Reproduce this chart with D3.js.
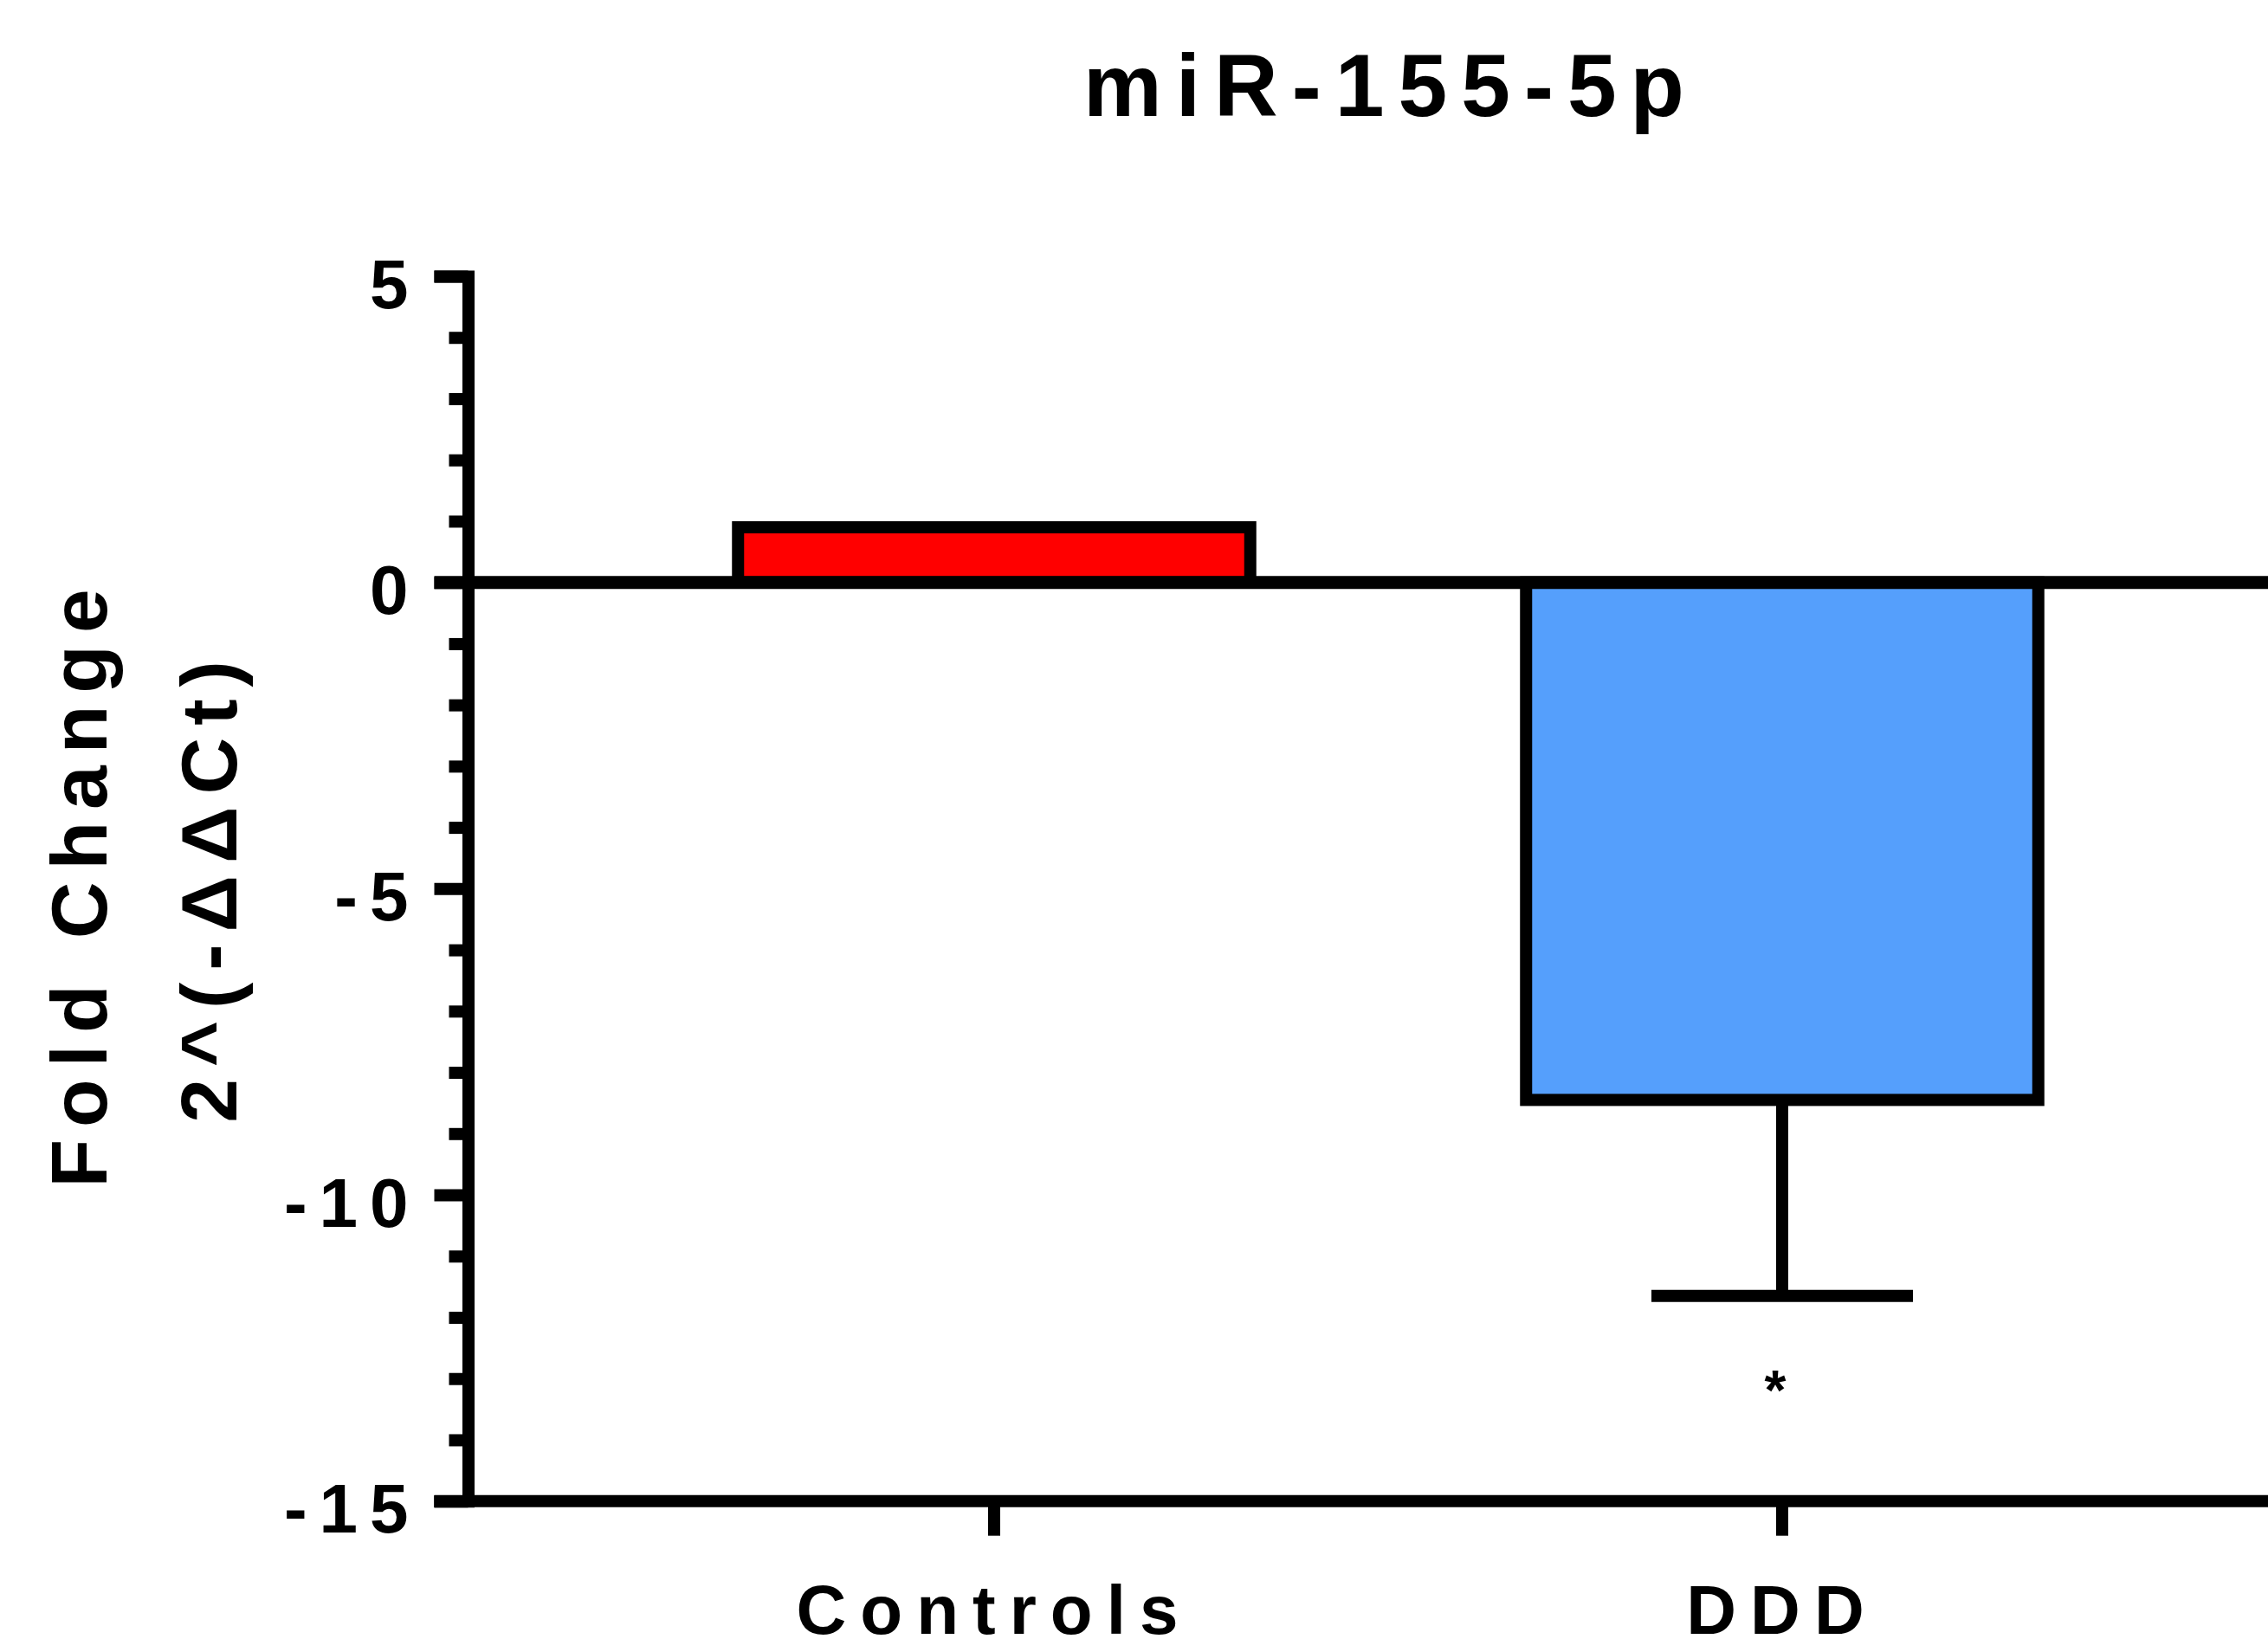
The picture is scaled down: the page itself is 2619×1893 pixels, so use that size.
<!DOCTYPE html>
<html>
<head>
<meta charset="utf-8">
<script src="https://cdn.jsdelivr.net/npm/d3@7"></script>
<style>
  html, body { margin: 0; padding: 0; background: #fff; }
  svg text { font-family: "Liberation Sans", Arial, Helvetica, sans-serif; font-weight: bold; fill: #000; }
</style>
</head>
<body>
<div id="chart"></div>
<script>
// chart values
var categories = ["Controls", "DDD"];
var means = [0.9, -8.45];
var errors = [0, 3.2];
var marks = ["", "*"];
var yTicks = [-15, -10, -5, 0, 5];
var title = "miR-155-5p";
var yTitle = ["Fold Change", "2^(-\u0394\u0394Ct)"];

var colors = ["#FF0000", "#559FFC"];

var width = 2619,
  height = 1893;

var axisX = 540.5,
  lw = 14;

var y = d3.scaleLinear()
  .domain([-15, 5])
  .range([1733.7, 319]);

var x = d3.scaleBand()
  .domain(categories)
  .range([693, 2513])
  .paddingInner(0.35)
  .paddingOuter(0.175);

var color = d3.scaleOrdinal(categories, colors);

var data = categories.map(function(c, i) {
  return {cat: c, mean: means[i], err: errors[i], mark: marks[i]};
});

var svg = d3.select("#chart").append("svg")
  .attr("width", width)
  .attr("height", height);

// bars
svg.append("g").attr("class", "bars")
  .selectAll("rect")
  .data(data)
  .enter().append("rect")
    .attr("x", function(d) { return x(d.cat); })
    .attr("width", x.bandwidth())
    .attr("y", function(d) { return y(Math.max(0, d.mean)); })
    .attr("height", function(d) { return Math.abs(y(d.mean) - y(0)); })
    .attr("fill", function(d) { return color(d.cat); })
    .attr("stroke", "#000")
    .attr("stroke-width", lw);

// error bars (away from zero)
var eb = svg.append("g").attr("class", "errorbars")
  .selectAll("g")
  .data(data.filter(function(d) { return d.err > 0; }))
  .enter().append("g");

function errEnd(d) { return d.mean < 0 ? d.mean - d.err : d.mean + d.err; }

eb.append("line")
  .attr("x1", function(d) { return x(d.cat) + x.bandwidth() / 2; })
  .attr("x2", function(d) { return x(d.cat) + x.bandwidth() / 2; })
  .attr("y1", function(d) { return y(d.mean); })
  .attr("y2", function(d) { return y(errEnd(d)); })
  .attr("stroke", "#000")
  .attr("stroke-width", lw);

eb.append("line")
  .attr("x1", function(d) { return x(d.cat) + x.bandwidth() / 2 - 151; })
  .attr("x2", function(d) { return x(d.cat) + x.bandwidth() / 2 + 151; })
  .attr("y1", function(d) { return y(errEnd(d)); })
  .attr("y2", function(d) { return y(errEnd(d)); })
  .attr("stroke", "#000")
  .attr("stroke-width", lw);

// significance marks
svg.append("g").attr("class", "marks")
  .selectAll("text")
  .data(data.filter(function(d) { return d.mark; }))
  .enter().append("text")
    .attr("x", function(d) { return x(d.cat) + x.bandwidth() / 2 - 8; })
    .attr("y", function(d) { return y(errEnd(d)) + 131; })
    .attr("text-anchor", "middle")
    .style("font-size", "64px")
    .text(function(d) { return d.mark; });

// zero line and baseline
svg.append("line")
  .attr("x1", axisX - 39).attr("x2", width)
  .attr("y1", y(0)).attr("y2", y(0))
  .attr("stroke", "#000").attr("stroke-width", 15);

svg.append("line")
  .attr("x1", axisX - 39).attr("x2", width)
  .attr("y1", y(-15)).attr("y2", y(-15))
  .attr("stroke", "#000").attr("stroke-width", lw);

// y axis, minor ticks
var minor = d3.range(-15, 6).filter(function(v) { return v % 5 !== 0; });
svg.append("g")
  .attr("class", "y minor")
  .attr("transform", "translate(" + axisX + ",0)")
  .call(d3.axisLeft(y).tickValues(minor).tickSize(22).tickFormat(""))
  .call(function(g) { g.select(".domain").remove(); })
  .selectAll("line").attr("stroke-width", lw);

// y axis, major ticks
var yAxis = svg.append("g")
  .attr("class", "y axis")
  .attr("transform", "translate(" + axisX + ",0)")
  .call(d3.axisLeft(y).tickValues(yTicks).tickSize(39).tickSizeOuter(39)
    .tickPadding(16).tickFormat(function(d) { return String(d); }));

yAxis.select(".domain")
  .attr("stroke-width", lw)
  .attr("stroke-linejoin", "miter");
yAxis.selectAll(".tick line").attr("stroke-width", lw);
yAxis.selectAll(".tick text")
  .attr("dy", null)
  .attr("y", 36)
  .style("font-size", "80px")
  .style("letter-spacing", "14px")
  .attr("fill", "#000");

// x axis
var xAxis = svg.append("g")
  .attr("class", "x axis")
  .attr("transform", "translate(0," + y(-15) + ")")
  .call(d3.axisBottom(x).tickSize(40).tickSizeOuter(0).tickPadding(0));

xAxis.select(".domain").remove();
xAxis.selectAll(".tick line").attr("stroke-width", lw);
xAxis.selectAll(".tick text")
  .attr("dy", null)
  .attr("y", 153)
  .style("font-size", "80px")
  .style("letter-spacing", "16px")
  .attr("fill", "#000");

// chart title
svg.append("text")
  .attr("x", 1606)
  .attr("y", 134)
  .attr("text-anchor", "middle")
  .style("font-size", "102px")
  .style("letter-spacing", "16px")
  .text(title);

// y axis title, two lines
svg.append("g")
  .selectAll("text")
  .data(yTitle)
  .enter().append("text")
    .attr("transform", function(d, i) {
      return "translate(" + (123 + i * 150) + "," + (1019 + i * 4) + ") rotate(-90)";
    })
    .attr("text-anchor", "middle")
    .style("font-size", "91px")
    .style("letter-spacing", "14px")
    .text(function(d) { return d; });
</script>
</body>
</html>
